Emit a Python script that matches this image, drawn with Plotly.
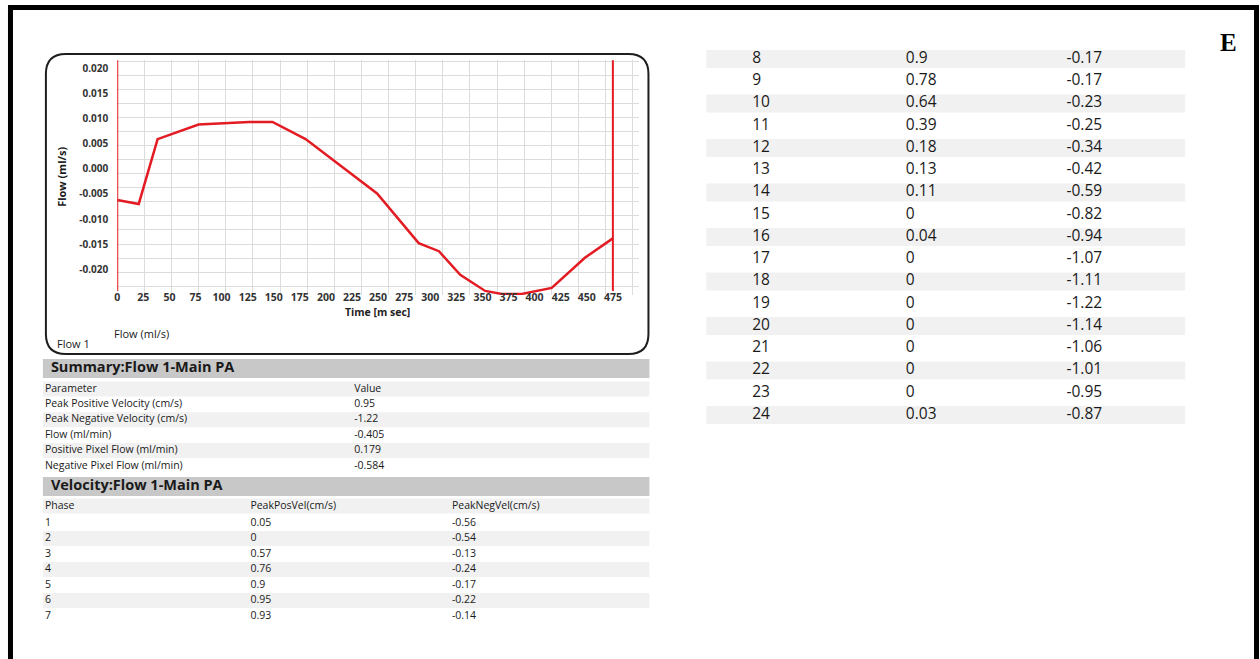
import plotly.graph_objects as go

W, H = 1260, 659

# ---------------- data ----------------
time_ms = [0, 20.6, 38.7, 77.9, 126.4, 148.8, 180.5, 249, 288.9, 308.3, 328.7,
           352.6, 368.5, 387.7, 416.4, 448.2, 475.3]
flow_mls = [-0.0062, -0.0070, 0.0059, 0.0088, 0.0093, 0.0093, 0.0059, -0.0049,
            -0.0148, -0.0164, -0.0211, -0.0243, -0.0249, -0.0249, -0.0237,
            -0.0177, -0.0138]
cursor_times = [0, 475]
cursor_flow_span = [-0.0243, 0.0216]

x_tick_vals = list(range(0, 500, 25))
x_tick_text = [str(v) for v in x_tick_vals]
y_tick_vals = [0.020, 0.015, 0.010, 0.005, 0.0, -0.005, -0.010, -0.015, -0.020]
y_tick_text = ["0.020", "0.015", "0.010", "0.005", "0.000", "-0.005", "-0.010",
               "-0.015", "-0.020"]

summary_title = "Summary:Flow 1-Main PA"
summary_header = ["Parameter", "Value"]
summary_params = ["Peak Positive Velocity (cm/s)", "Peak Negative Velocity (cm/s)",
                  "Flow (ml/min)", "Positive Pixel Flow (ml/min)",
                  "Negative Pixel Flow (ml/min)"]
summary_values = [0.95, -1.22, -0.405, 0.179, -0.584]

velocity_title = "Velocity:Flow 1-Main PA"
velocity_header = ["Phase", "PeakPosVel(cm/s)", "PeakNegVel(cm/s)"]
phases = list(range(1, 25))
peak_pos_vel = [0.05, 0, 0.57, 0.76, 0.9, 0.95, 0.93, 0.9, 0.78, 0.64, 0.39, 0.18,
                0.13, 0.11, 0, 0.04, 0, 0, 0, 0, 0, 0, 0, 0.03]
peak_neg_vel = [-0.56, -0.54, -0.13, -0.24, -0.17, -0.22, -0.14, -0.17, -0.17,
                -0.23, -0.25, -0.34, -0.42, -0.59, -0.82, -0.94, -1.07, -1.11,
                -1.22, -1.14, -1.06, -1.01, -0.95, -0.87]

# ---------------- helpers ----------------
def PX(x):
    return x / W

def PY(y):
    return 1 - y / H

FONT = "Open Sans"
TXT = "#1a1a1a"
RED = "#e31b23"

def fmt(v):
    return f"{v:g}"

fig = go.Figure()

# ---------------- chart ----------------
fig.add_trace(go.Scatter(x=time_ms, y=flow_mls, mode="lines",
                         line=dict(color=RED, width=2.5), cliponaxis=False,
                         hoverinfo="skip", showlegend=False, xaxis="x", yaxis="y"))
for t in cursor_times:
    fig.add_trace(go.Scatter(x=[t, t], y=cursor_flow_span, mode="lines",
                             line=dict(color=RED, width=2), cliponaxis=False,
                             hoverinfo="skip", showlegend=False,
                             xaxis="x", yaxis="y"))

# ---------------- tables (pixel-space overlay) ----------------
shapes = []

def band(x0, x1, y0, y1, color):
    shapes.append(dict(type="rect", xref="x2", yref="y2", x0=x0, x1=x1, y0=y0, y1=y1,
                       fillcolor=color, line=dict(width=0), layer="below"))

def text_col(xs, ys, texts, size, bold=False):
    fig.add_trace(go.Scatter(x=xs, y=ys, text=texts, mode="text",
                             textposition="middle right",
                             textfont=dict(family=FONT, size=size, color=TXT,
                                           weight="bold" if bold else "normal"),
                             hoverinfo="skip", showlegend=False,
                             xaxis="x2", yaxis="y2"))

LIGHT = "#f1f1f1"
HEAD = "#c8c8c8"

# Summary section
band(40, 648, 359, 378, HEAD)
text_col([48], [368.5], [summary_title], 14.5, bold=True)
s_rows = [summary_header] + [[p, fmt(v)] for p, v in zip(summary_params, summary_values)]
s_y = [389 + 15.4 * i for i in range(len(s_rows))]
for i, yy in enumerate(s_y):
    if i % 2 == 0:
        band(40, 648, yy - 7.5, yy + 7.5, LIGHT)
text_col([42] * len(s_rows), s_y, [r[0] for r in s_rows], 10.5)
text_col([352] * len(s_rows), s_y, [r[1] for r in s_rows], 10.5)

# Velocity section (phases 1-7)
band(40, 648, 477, 496, HEAD)
text_col([48], [486.5], [velocity_title], 14.5, bold=True)
n_left = 7
v_y = [506] + [523 + 15.5 * k for k in range(n_left)]
for i, yy in enumerate(v_y):
    if i % 2 == 0:
        band(40, 648, yy - 7.5, yy + 7.5, LIGHT)
col1 = [velocity_header[0]] + [str(p) for p in phases[:n_left]]
col2 = [velocity_header[1]] + [fmt(v) for v in peak_pos_vel[:n_left]]
col3 = [velocity_header[2]] + [fmt(v) for v in peak_neg_vel[:n_left]]
text_col([42] * len(col1), v_y, col1, 10.5)
text_col([248] * len(col2), v_y, col2, 10.5)
text_col([450] * len(col3), v_y, col3, 10.5)

# Velocity continuation (phases 8-24)
r_y = [59 + 22.25 * k for k in range(len(phases) - n_left)]
for k, yy in enumerate(r_y):
    if phases[n_left + k] % 2 == 0:
        band(705, 1185, yy - 9, yy + 9, LIGHT)
text_col([751] * len(r_y), r_y, [str(p) for p in phases[n_left:]], 15.5)
text_col([905] * len(r_y), r_y, [fmt(v) for v in peak_pos_vel[n_left:]], 15.5)
text_col([1066] * len(r_y), r_y, [fmt(v) for v in peak_neg_vel[n_left:]], 15.5)

# ---------------- decorations ----------------
x0, y0, x1, y1, r = 43, 54, 647, 354, 20
def P(x, y):
    return f"{PX(x):.5f},{PY(y):.5f}"
box_path = (f"M {P(x0 + r, y0)} L {P(x1 - r, y0)} Q {P(x1, y0)} {P(x1, y0 + r)} "
            f"L {P(x1, y1 - r)} Q {P(x1, y1)} {P(x1 - r, y1)} "
            f"L {P(x0 + r, y1)} Q {P(x0, y1)} {P(x0, y1 - r)} "
            f"L {P(x0, y0 + r)} Q {P(x0, y0)} {P(x0 + r, y0)} Z")
shapes.append(dict(type="path", xref="paper", yref="paper", path=box_path,
                   line=dict(color="#1e1e1e", width=2)))
shapes.append(dict(type="rect", xref="paper", yref="paper",
                   x0=PX(7.5), x1=PX(1256.5), y0=PY(720), y1=PY(7.5),
                   line=dict(color="black", width=5)))

annotations = [
    dict(text="Flow (ml/s)", x=PX(59), y=PY(177), textangle=-90,
         font=dict(family=FONT, size=11, color=TXT, weight="bold")),
    dict(text="Time [m sec]", x=PX(375), y=PY(312),
         font=dict(family=FONT, size=10.5, color="#222", weight="bold")),
    dict(text="Flow (ml/s)", x=PX(109), y=PY(333), xanchor="left",
         font=dict(family=FONT, size=11, color=TXT)),
    dict(text="Flow 1", x=PX(52), y=PY(343), xanchor="left",
         font=dict(family=FONT, size=11, color=TXT)),
    dict(text="E", x=PX(1228), y=PY(42),
         font=dict(family="Liberation Serif", size=25, color="black", weight="bold")),
]
for a in annotations:
    a.update(xref="paper", yref="paper", showarrow=False)
    a.setdefault("xanchor", "center")
    a.setdefault("yanchor", "middle")

GRID = "#dcdcdc"
fig.update_layout(
    width=W, height=H, autosize=False,
    margin=dict(l=0, r=0, t=0, b=0),
    paper_bgcolor="white", plot_bgcolor="rgba(0,0,0,0)",
    showlegend=False,
    shapes=shapes, annotations=annotations,
    xaxis=dict(domain=[PX(114.5), PX(638)], range=[0, 500.5],
               tickmode="array", tickvals=x_tick_vals, ticktext=x_tick_text,
               showgrid=False, zeroline=False, showline=False, ticks="",
               ticklabelstandoff=-6,
               tickfont=dict(family=FONT, size=10.5, color="#333", weight="bold"),
               minor=dict(tickmode="linear", tick0=0, dtick=26, showgrid=True,
                          gridcolor=GRID, gridwidth=1),
               fixedrange=True, anchor="y"),
    yaxis=dict(domain=[PY(295), PY(60)], range=[-0.02511, 0.02163],
               tickmode="array", tickvals=y_tick_vals, ticktext=y_tick_text,
               showgrid=False, zeroline=False, showline=False, ticks="",
               ticklabelstandoff=8,
               tickfont=dict(family=FONT, size=10, color="#333", weight="bold"),
               minor=dict(tickmode="linear", tick0=0.02129, dtick=0.002789,
                          showgrid=True, gridcolor=GRID, gridwidth=1),
               fixedrange=True, anchor="x"),
    xaxis2=dict(domain=[0, 1], range=[0, W], visible=False, fixedrange=True,
                anchor="y2"),
    yaxis2=dict(domain=[0, 1], range=[H, 0], visible=False, fixedrange=True,
                anchor="x2"),
)

fig.write_html("out.html")
